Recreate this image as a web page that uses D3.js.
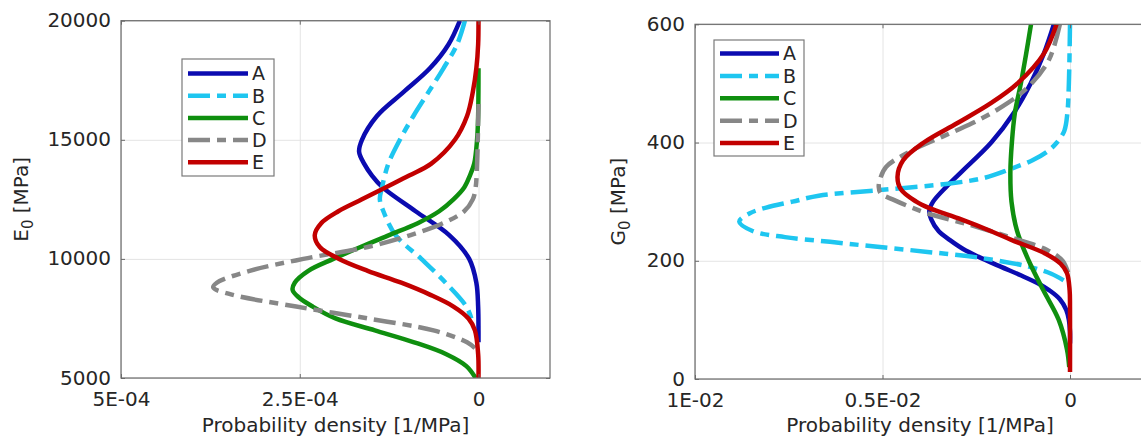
<!DOCTYPE html>
<html>
<head>
<meta charset="utf-8">
<script src="https://cdn.jsdelivr.net/npm/d3@7"></script>
<style>
  body { margin: 0; background: #fff; }
  svg { display: block; font-family: "DejaVu Sans", sans-serif; }
</style>
</head>
<body>
<svg id="chart" width="1141" height="442"></svg>
<script>
// series names and styles
let names = ['A', 'B', 'C', 'D', 'E'];
let colors = ['#0b0bb0', '#1ec6f0', '#0f8f0f', '#878787', '#c20000'];
let dashes = [null, '22,7,9,7', null, '22,7,9,7', null];

// left panel: [E0 (MPa), density (1E-04 1/MPa)]
let leftA = [[20000,0.26],[19000,0.42],[18000,0.68],[17000,1.05],[16000,1.42],[15000,1.63],[14500,1.67],[14000,1.60],[13500,1.49],[13000,1.34],[12000,0.88],[11000,0.41],[10000,0.13],[9000,0.03],[8000,0.005],[7000,0],[6500,0]];
let leftB = [[20000,0.19],[19000,0.30],[18000,0.49],[17000,0.70],[16000,0.91],[15000,1.10],[14000,1.26],[13000,1.35],[12500,1.38],[12000,1.33],[11000,1.16],[10000,0.80],[9000,0.46],[8000,0.17],[7500,0.10]];
let leftC = [[18000,0],[16000,0.005],[15000,0.02],[14000,0.06],[13500,0.12],[13000,0.2],[12500,0.35],[12000,0.55],[11500,0.85],[11000,1.25],[10500,1.65],[10000,2.03],[9500,2.38],[9000,2.57],[8700,2.60],[8400,2.52],[8000,2.32],[7500,2.0],[7000,1.45],[6500,0.9],[6000,0.45],[5500,0.17],[5000,0.04]];
let leftD = [[16500,0],[15000,0.01],[14000,0.02],[13000,0.04],[12500,0.08],[12000,0.2],[11500,0.5],[11000,0.95],[10500,1.55],[10000,2.45],[9500,3.2],[9000,3.66],[8800,3.71],[8500,3.45],[8000,2.55],[7500,1.55],[7000,0.63],[6500,0.16],[6250,0.05]];
let leftE = [[20000,0],[19000,0.005],[18000,0.03],[17000,0.08],[16000,0.16],[15000,0.33],[14000,0.66],[13500,0.97],[13000,1.30],[12500,1.63],[12000,1.96],[11500,2.20],[11000,2.29],[10500,2.22],[10000,1.95],[9500,1.55],[9000,1.08],[8500,0.68],[8000,0.35],[7500,0.14],[7000,0.05],[6000,0.005],[5000,0]];

// right panel: [G0 (MPa), density (1E-02 1/MPa)]
let rightA = [[600,0.043],[550,0.07],[500,0.105],[450,0.15],[400,0.21],[350,0.29],[325,0.33],[300,0.365],[285,0.375],[270,0.37],[250,0.35],[235,0.32],[220,0.285],[207,0.245],[190,0.185],[175,0.13],[160,0.08],[150,0.055],[135,0.027],[117,0.01],[100,0.003],[80,0],[60,0]];
let rightB = [[600,0],[500,0.003],[450,0.007],[420,0.015],[400,0.035],[385,0.06],[370,0.10],[355,0.16],[340,0.23],[330,0.33],[320,0.50],[310,0.67],[300,0.74],[290,0.81],[280,0.855],[266,0.882],[250,0.845],[240,0.76],[232,0.64],[224,0.52],[215,0.38],[205,0.24],[190,0.11],[178,0.05],[166,0.015]];
let rightC = [[600,0.104],[550,0.117],[500,0.131],[450,0.147],[400,0.155],[350,0.159],[300,0.156],[250,0.141],[200,0.110],[150,0.071],[100,0.03],[50,0.008],[20,0.002]];
let rightD = [[600,0.027],[540,0.056],[495,0.11],[461,0.18],[433,0.26],[410,0.34],[387,0.42],[359,0.49],[337,0.507],[325,0.51],[314,0.505],[303,0.47],[292,0.43],[280,0.38],[263,0.28],[240,0.16],[218,0.06],[200,0.02],[180,0.005],[170,0]];
let rightE = [[600,0.036],[550,0.07],[500,0.14],[467,0.21],[433,0.30],[400,0.39],[370,0.445],[342,0.46],[320,0.45],[300,0.41],[289,0.375],[270,0.29],[250,0.21],[235,0.155],[212,0.065],[195,0.025],[179,0.008],[150,0.001],[120,0],[12,0]];

// ticks
let leftXTicks = [5e-4, 2.5e-4, 0];
let leftXLabels = ['5E-04', '2.5E-04', '0'];
let leftYTicks = [5000, 10000, 15000, 20000];
let rightXTicks = [0.01, 0.005, 0];
let rightXLabels = ['1E-02', '0.5E-02', '0'];
let rightYTicks = [0, 200, 400, 600];

let textColor = '#262626';
let axisColor = '#6a6a6a';

let svg = d3.select('#chart');

let panels = [
  {
    id: 'left', left: 121, right: 550, top: 20.7, bottom: 378,
    xDomain: [5e-4, -1e-4], yDomain: [5000, 20000], unit: 1e-4,
    xTicks: leftXTicks, xLabels: leftXLabels, yTicks: leftYTicks,
    series: [leftA, leftB, leftC, leftD, leftE],
    yLetter: 'E', yLabelX: 28,
    legend: {x: 182, y: 59, w: 92, h: 117, lineX0: 188, lineX1: 248, firstY: 73.5, step: 22.2}
  },
  {
    id: 'right', left: 695, right: 1145, top: 24.3, bottom: 379,
    xDomain: [0.01, -0.002], yDomain: [0, 600], unit: 1e-2,
    xTicks: rightXTicks, xLabels: rightXLabels, yTicks: rightYTicks,
    series: [rightA, rightB, rightC, rightD, rightE],
    yLetter: 'G', yLabelX: 625,
    legend: {x: 714, y: 40, w: 90, h: 116, lineX0: 720, lineX1: 779, firstY: 53.5, step: 22.4}
  }
];

panels.forEach(function(p) {
  let x = d3.scaleLinear().domain(p.xDomain).range([p.left, p.right]);
  let y = d3.scaleLinear().domain(p.yDomain).range([p.bottom, p.top]);
  let h = p.bottom - p.top;
  let w = p.right - p.left;
  let g = svg.append('g');

  // grid lines
  g.append('g')
    .attr('transform', `translate(0, ${p.bottom})`)
    .call(d3.axisBottom(x).tickValues(p.xTicks).tickSize(-h).tickFormat(''))
    .call(a => a.select('.domain').remove())
    .selectAll('line').attr('stroke', '#e4e4e4');
  g.append('g')
    .attr('transform', `translate(${p.left}, 0)`)
    .call(d3.axisLeft(y).tickValues(p.yTicks).tickSize(-w).tickFormat(''))
    .call(a => a.select('.domain').remove())
    .selectAll('line').attr('stroke', '#e4e4e4');

  // curves
  svg.append('clipPath').attr('id', 'clip-' + p.id)
    .append('rect')
    .attr('x', p.left).attr('y', p.top)
    .attr('width', w).attr('height', h);

  let line = d3.line()
    .x(d => x(d[1] * p.unit))
    .y(d => y(d[0]))
    .curve(d3.curveCatmullRom.alpha(0.5));

  g.append('g')
    .attr('clip-path', `url(#clip-${p.id})`)
    .selectAll('path')
    .data(p.series)
    .enter()
    .append('path')
    .attr('d', d => line(d))
    .attr('fill', 'none')
    .attr('stroke', (d, i) => colors[i])
    .attr('stroke-width', 4.5)
    .attr('stroke-dasharray', (d, i) => dashes[i]);

  // box
  g.append('rect')
    .attr('x', p.left).attr('y', p.top)
    .attr('width', w).attr('height', h)
    .attr('fill', 'none')
    .attr('stroke', axisColor)
    .attr('stroke-width', 1.2);

  // ticks with labels
  let xAxis = g.append('g')
    .attr('transform', `translate(0, ${p.bottom})`)
    .call(d3.axisBottom(x).tickValues(p.xTicks)
      .tickFormat((d, i) => p.xLabels[i])
      .tickSizeInner(-4).tickSizeOuter(0).tickPadding(14));
  let yAxis = g.append('g')
    .attr('transform', `translate(${p.left}, 0)`)
    .call(d3.axisLeft(y).tickValues(p.yTicks)
      .tickFormat(d3.format('d'))
      .tickSizeInner(-4).tickSizeOuter(0).tickPadding(10));
  // mirrored ticks
  let topAxis = g.append('g')
    .attr('transform', `translate(0, ${p.top})`)
    .call(d3.axisTop(x).tickValues(p.xTicks).tickFormat('').tickSizeInner(-4).tickSizeOuter(0));
  let rightAxis = g.append('g')
    .attr('transform', `translate(${p.right}, 0)`)
    .call(d3.axisRight(y).tickValues(p.yTicks).tickFormat('').tickSizeInner(-4).tickSizeOuter(0));

  [xAxis, yAxis, topAxis, rightAxis].forEach(function(a) {
    a.select('.domain').remove();
    a.selectAll('line').attr('stroke', axisColor);
    a.selectAll('text')
      .attr('font-family', '"DejaVu Sans", sans-serif')
      .attr('font-size', 20)
      .attr('fill', textColor);
  });
  yAxis.selectAll('text').attr('dy', '0.3em');

  // axis titles
  g.append('text')
    .attr('x', (p.left + p.right) / 2)
    .attr('y', 432)
    .attr('text-anchor', 'middle')
    .attr('font-size', 20)
    .attr('fill', textColor)
    .text('Probability density [1/MPa]');

  let yl = g.append('text')
    .attr('transform', `translate(${p.yLabelX}, ${(p.top + p.bottom) / 2}) rotate(-90)`)
    .attr('text-anchor', 'middle')
    .attr('font-size', 20)
    .attr('fill', textColor);
  yl.append('tspan').text(p.yLetter);
  yl.append('tspan').attr('font-size', 15).attr('dy', 5).text('0');
  yl.append('tspan').attr('dy', -5).text(' [MPa]');

  // legend
  let L = p.legend;
  let lg = g.append('g');
  lg.append('rect')
    .attr('x', L.x).attr('y', L.y)
    .attr('width', L.w).attr('height', L.h)
    .attr('fill', '#fff')
    .attr('stroke', '#7a7a7a')
    .attr('stroke-width', 1.2);
  names.forEach(function(n, i) {
    let ly = L.firstY + i * L.step;
    lg.append('line')
      .attr('x1', L.lineX0).attr('x2', L.lineX1)
      .attr('y1', ly).attr('y2', ly)
      .attr('stroke', colors[i])
      .attr('stroke-width', 4.5)
      .attr('stroke-dasharray', dashes[i]);
    lg.append('text')
      .attr('x', L.lineX1 + 4)
      .attr('y', ly)
      .attr('dy', '0.36em')
      .attr('font-size', 19)
      .attr('fill', textColor)
      .text(n);
  });
});
</script>
</body>
</html>
